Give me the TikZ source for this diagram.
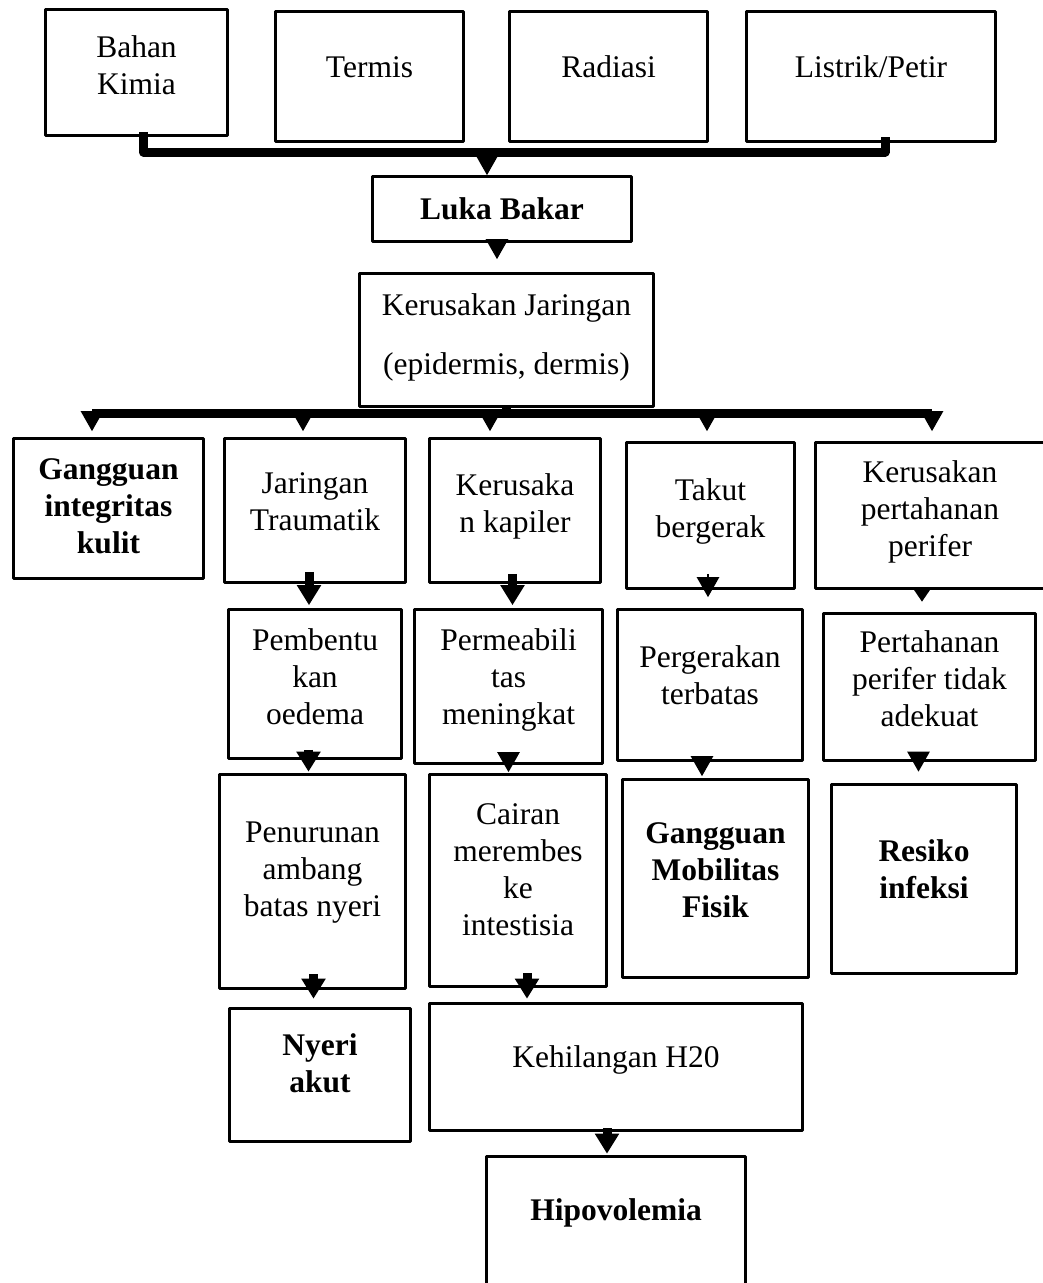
\documentclass[tikz,border=0pt]{standalone}
\usepackage{fontspec}
\setmainfont{Liberation Serif}
\usetikzlibrary{arrows.meta}
\newcommand{\lift}[1]{\rule[-#1pt]{0pt}{#1pt}}

\begin{document}
\begin{tikzpicture}[x=1pt, y=-1pt, line join=round,
	box/.style={draw, line width=2.6pt, inner sep=0pt, align=center,
		font=\fontsize{31.5}{37}\selectfont},
	bbox/.style={box, font=\fontsize{31.5}{37}\selectfont\bfseries},
	sz/.style 2 args={minimum width=#1pt, minimum height=#2pt},
	bus/.style={line width=9pt},
	arr/.style={line width=2.5pt, -{Triangle[width=22pt,length=20pt]}},
	arrs/.style={line width=2.5pt, -{Triangle[width=17pt,length=13pt]}},
	fat/.style={line width=9pt, -{Triangle[width=23pt,length=20pt]}}]
	\useasboundingbox (0,0) rectangle (1043,1283);
	\path
	(487,152) coordinate (bus1)
	(506.5,413) coordinate (bus2)
	(92,413) coordinate (b2l)
	(932,413) coordinate (b2r);
	% penyebab
	\node[box, sz={182}{126}] (bahan) at (136.5,72.5) {Bahan\\Kimia\lift{15}};
	\node[box, sz={188}{130}] (termis) at (369.5,76.5) {Termis\lift{19}};
	\node[box, sz={198}{130}] (radiasi) at (608.5,76.5) {Radiasi\lift{19}};
	\node[box, sz={249}{130}] (listrik) at (871,76.5) {Listrik/Petir\lift{19}};
	\node[bbox, sz={259}{65}] (luka) at (502,209) {Luka Bakar};
	\node[box, sz={294}{133}] (jaringan) at (506.5,340)
	{Kerusakan Jaringan\\[22pt](epidermis, dermis)\lift{12}};
	% baris 2
	\node[bbox, sz={190}{140}] (integritas) at (108.5,508.5) {Gangguan\\integritas\\kulit\lift{5}};
	\node[box, sz={181}{144}] (traumatik) at (315,510.5) {Jaringan\\Traumatik\lift{17}};
	\node[box, sz={171}{144}] (kapiler) at (515,510.5) {Kerusaka\\n kapiler\lift{15}};
	\node[box, sz={168}{146}] (takut) at (710.5,515.5) {Takut\\bergerak\lift{15}};
	\node[box, sz={229}{146}] (pertahanan) at (930,515.5) {Kerusakan\\pertahanan\\perifer\lift{13}};
	% baris 3
	\node[box, sz={173}{149}] (oedema) at (315,684) {Pembentu\\kan\\oedema\lift{14}};
	\node[box, sz={188}{154}] (permeabilitas) at (508.5,686.5) {Permeabili\\tas\\meningkat\lift{19}};
	\node[box, sz={185}{151}] (pergerakan) at (710,685) {Pergerakan\\terbatas\lift{20}};
	\node[box, sz={212}{147}] (perifer) at (929.5,687) {Pertahanan\\perifer tidak\\adekuat\lift{16}};
	% baris 4
	\node[box, sz={186}{214}] (penurunan) at (312.5,881.5) {Penurunan\\ambang\\batas nyeri\lift{25}};
	\node[box, sz={177}{212}] (cairan) at (518,880.5) {Cairan\\merembes\\ke\\intestisia\lift{21}};
	\node[bbox, sz={186}{198}] (mobilitas) at (715.5,878.5) {Gangguan\\Mobilitas\\Fisik\lift{17}};
	\node[bbox, sz={185}{189}] (resiko) at (924,879) {Resiko\\infeksi\lift{20}};
	% baris 5
	\node[bbox, sz={181}{133}] (nyeri) at (320,1075) {Nyeri\\akut\lift{24}};
	\node[box, sz={373}{127}] (kehilangan) at (616,1067) {Kehilangan H20\lift{20}};
	\node[bbox, sz={259}{142}] (hipovolemia) at (616,1227.5) {Hipovolemia\lift{35}};
	% garis
	\draw[bus] ([xshift=7pt,yshift=5pt]bahan.south) |- (bus1)
	-| ([xshift=14pt,yshift=6pt]listrik.south);
	\draw[arr] (bus1) -- (bus1 |- luka.north);
	\draw[arr, shorten >=13pt] ([xshift=-5pt]luka.south) -- ([xshift=-5pt]luka.south |- jaringan.north);
	\draw[bus] (jaringan.south) -- (bus2);
	\draw[bus] (b2l) -- (b2r);
	\foreach \n/\dx/\s in {integritas/-16.5/6, traumatik/-12/6, kapiler/-25/6,
		takut/-3.5/10, pertahanan/2/10}
	\draw[arr, shorten >=\s pt] ([xshift=\dx pt]\n.north |- bus2) -- ([xshift=\dx pt]\n.north);
	\draw[fat, shorten >=3pt] ([xshift=-6pt,yshift=12pt]traumatik.south)
	-- ([xshift=-6pt]traumatik.south |- oedema.north);
	\draw[fat, shorten >=3pt] ([xshift=-2.5pt,yshift=10pt]kapiler.south)
	-- ([xshift=-2.5pt]kapiler.south |- permeabilitas.north);
	\draw[arr, shorten >=11pt] ([xshift=-2.5pt,yshift=16pt]takut.south)
	-- ([xshift=-2.5pt]takut.south |- pergerakan.north);
	\draw[arrs, shorten >=10.5pt] ([xshift=-8pt]pertahanan.south)
	-- ([xshift=-8pt]pertahanan.south |- perifer.north);
	\draw[fat, shorten >=1.5pt] ([xshift=-6.5pt,yshift=10pt]oedema.south)
	-- ([xshift=-6.5pt]oedema.south |- penurunan.north);
	\draw[arr, shorten >=1pt] ([yshift=13pt]permeabilitas.south)
	-- (permeabilitas.south |- cairan.north);
	\draw[arr, shorten >=2pt] ([xshift=-8pt]pergerakan.south)
	-- ([xshift=-8pt]pergerakan.south |- mobilitas.north);
	\draw[arr, shorten >=11.5pt] ([xshift=-11pt,yshift=9.5pt]perifer.south)
	-- ([xshift=-11pt]perifer.south |- resiko.north);
	\draw[fat, shorten >=8.5pt] ([xshift=1pt,yshift=15.5pt]penurunan.south)
	-- ([xshift=1pt]penurunan.south |- nyeri.north);
	\draw[fat, shorten >=3.5pt] ([xshift=9pt,yshift=14.5pt]cairan.south)
	-- ([xshift=9pt]cairan.south |- kehilangan.north);
	\draw[fat, shorten >=1.5pt] ([xshift=-9pt,yshift=3.5pt]kehilangan.south)
	-- ([xshift=-9pt]kehilangan.south |- hipovolemia.north);
\end{tikzpicture}
\end{document}
